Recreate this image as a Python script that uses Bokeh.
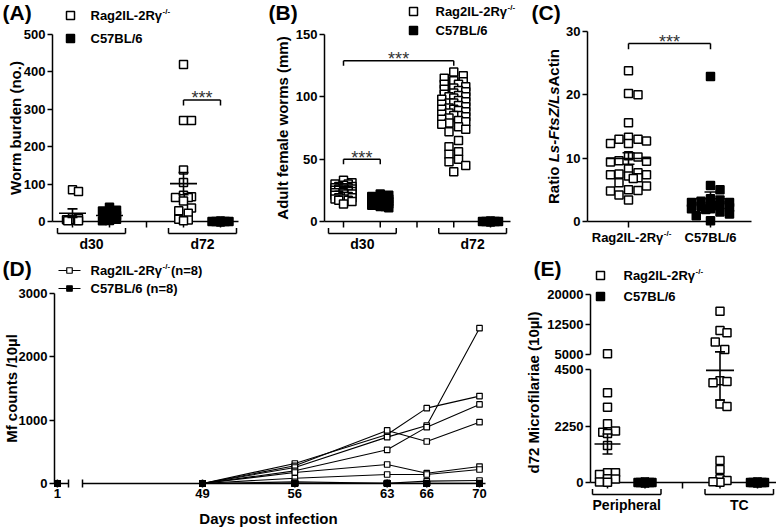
import numpy as np
from bokeh.plotting import figure
from bokeh.layouts import row, column
from bokeh.models import Range1d, FixedTicker
from bokeh.core.properties import value
from bokeh.embed import file_html
from bokeh.resources import INLINE

FONT = "Liberation Sans"

# ---------------- data ----------------
rag_name = "Rag2IL-2R\u03b3"      # followed by superscript "-/-"
rag_sup = "-/-"
c57_name = "C57BL/6"

# (A) worm burden (no.)
a_groups = ["d30", "d72"]
a_rag_d30 = [85, 80, 10, 8, 5, 5, 3, 2, 2]
a_c57_d30 = [38, 30, 28, 25, 22, 20, 18, 16, 15, 12, 10, 8, 6, 5, 3, 2]
a_rag_d72 = [420, 270, 270, 138, 104, 70, 66, 64, 64, 55, 36, 29, 22, 6, 4, 2]
a_c57_d72 = [0, 0, 0, 0, 0, 0, 0, 0, 0, 0]
a_yticks = [0, 100, 200, 300, 400, 500]

# (B) adult female worms (mm)
b_groups = ["d30", "d72"]
b_rag_d30 = [33, 31, 30, 30, 29, 28, 28, 27, 27, 27, 26, 26, 26, 25, 25, 25, 25, 24, 24,
             24, 23, 23, 23, 22, 22, 22, 21, 21, 20, 20, 19, 19, 18, 18, 17, 17, 16, 14]
b_c57_d30 = [22, 21, 20, 19, 19, 18, 18, 17, 17, 17, 16, 16, 16, 16, 15, 15, 15, 15, 14,
             14, 14, 13, 13, 12, 12, 11]
b_rag_d72 = [120, 117, 115, 113, 112, 110, 110, 108, 107, 106, 105, 104, 103, 102, 101, 100,
             100, 99, 98, 97, 96, 95, 95, 94, 93, 92, 91, 90, 90, 89, 88, 87, 86, 85, 85, 84,
             83, 82, 81, 80, 79, 78, 76, 74, 72, 65, 60, 56, 54, 50, 48, 45, 40]
b_c57_d72 = [0, 0, 0, 0, 0, 0, 0, 0, 0, 0]
b_yticks = [0, 50, 100, 150]

# (C) ratio Ls-FtsZ / LsActin
c_rag = [23.8, 20.2, 20.0, 15.6, 13.3, 13.0, 13.0, 12.7, 12.3, 12.3, 10.4, 10.2, 9.6, 9.5,
         9.4, 8.3, 7.7, 7.5, 7.4, 7.4, 7.2, 6.9, 6.8, 6.1, 5.6, 5.0, 4.9, 4.8, 4.2, 3.4]
c_c57 = [22.9, 5.7, 5.0, 3.6, 3.4, 3.2, 3.0, 3.0, 2.8, 2.6, 2.5, 2.4, 2.2, 2.0, 2.0, 1.9,
         1.5, 1.2, 0.9, 0.1]
c_yticks = [0, 10, 20, 30]

# (D) Mf counts / 10 ul per mouse
d_days = [1, 49, 56, 63, 66, 70]
d_rag = [
    [0, 0, 316, 774, 1190, 1380],
    [0, 0, 279, 838, 663, 968],
    [0, 0, 253, 732, 916, 2453],
    [0, 0, 200, 532, 890, 1248],
    [0, 0, 174, 300, 163, 268],
    [0, 0, 84, 142, 142, 221],
    [0, 0, 26, 5, 37, 47],
    [0, 0, 0, 5, 5, 5],
]
d_c57 = [
    [0, 0, 0, 0, 0, 0], [0, 0, 0, 0, 0, 0], [0, 0, 0, 0, 0, 0], [0, 0, 0, 0, 0, 0],
    [0, 0, 0, 0, 0, 0], [0, 0, 0, 0, 0, 0], [0, 0, 0, 0, 0, 0], [0, 0, 0, 0, 0, 0],
]
d_yticks = [0, 1000, 2000, 3000]

# (E) d72 microfilariae (10 ul)
e_groups = ["Peripheral", "TC"]
e_rag_per = [5200, 3570, 3000, 2340, 2050, 2000, 1950, 1470, 390, 320, 390, 150, 140, 20, 10]
e_c57_per = [0, 0, 0, 0, 0, 0, 0, 0, 0, 0]
e_rag_tc = [15800, 11000, 10400, 8100, 6250, 4050, 3970, 4020, 3130, 3030, 880, 520, 150, 80, 10, 30]
e_c57_tc = [0, 0, 0, 0, 0, 0, 0, 0, 0, 0]
e_yticks = [0, 2250, 4500, 5000, 12500, 20000]

# broken axis of (E): 0-4500 / 5000-20000 (gap and upper span in lower-segment units)
E_LOW_MAX, E_HIGH_MIN, E_HIGH_MAX = 4500, 5000, 20000
E_GAP, E_HIGH_SPAN = 600.0, 2390.0


def epos(v):
    if v <= E_LOW_MAX:
        return float(v)
    if v >= E_HIGH_MIN:
        return E_LOW_MAX + E_GAP + (v - E_HIGH_MIN) * E_HIGH_SPAN / (E_HIGH_MAX - E_HIGH_MIN)
    return E_LOW_MAX + (v - E_LOW_MAX) * E_GAP / (E_HIGH_MIN - E_LOW_MAX)


# broken axis of (D): day 1, then 49..70
D_BREAK_AT, D_BREAK_SPAN = 49, 11


def dpos(day):
    return float(day) if day >= D_BREAK_AT else float(D_BREAK_AT - D_BREAK_SPAN + (day - 1))


# ---------------- helpers ----------------
class Panel:
    def __init__(self, box, axis_x, xmap, ymap):
        x0, y0, x1, y1 = box
        (xa, pa), (xb, pb) = xmap
        (ya, qa), (yb, qb) = ymap
        self.xa, self.pa, self.kx = xa, pa, (xb - xa) / (pb - pa)
        self.ya, self.qa, self.ky = ya, qa, (yb - ya) / (qb - qa)
        self.ax = axis_x
        self.p = figure(width=x1 - x0, height=y1 - y0, output_backend="svg",
                        toolbar_location=None,
                        x_range=Range1d(self.X(x0), self.X(x1)),
                        y_range=Range1d(self.Y(y1), self.Y(y0)),
                        x_axis_location=None, y_axis_location="left",
                        min_border_left=0, min_border_right=0,
                        min_border_top=0, min_border_bottom=0)
        p = self.p
        p.yaxis[0].fixed_location = self.X(axis_x)
        p.outline_line_color = None
        p.grid.visible = False
        p.background_fill_color = "white"
        p.border_fill_color = "white"

    def X(self, px):
        return self.xa + (px - self.pa) * self.kx

    def Y(self, py):
        return self.ya + (py - self.qa) * self.ky

    def PX(self, x):
        return self.pa + (x - self.xa) / self.kx

    def PY(self, y):
        return self.qa + (y - self.ya) / self.ky


def style_yaxis(P, ticks, label, standoff, bounds=None, overrides=None, line=True):
    ax = P.p.yaxis[0]
    ax.ticker = FixedTicker(ticks=ticks)
    if label:
        ax.axis_label = label
    ax.axis_label_text_font = FONT
    ax.axis_label_text_font_style = "bold"
    ax.axis_label_text_font_size = "15px"
    ax.axis_label_text_color = "black"
    ax.axis_label_standoff = standoff
    ax.major_label_text_font = FONT
    ax.major_label_text_font_style = "bold"
    ax.major_label_text_font_size = "13px"
    ax.major_label_text_color = "black"
    ax.major_label_standoff = 2
    ax.major_tick_out = 5
    ax.major_tick_in = 0
    ax.major_tick_line_width = 1.5
    ax.major_tick_line_color = "black"
    ax.minor_tick_out = 0
    ax.minor_tick_in = 0
    ax.axis_line_width = 1.5
    ax.axis_line_color = "black" if line else None
    if bounds is not None:
        ax.bounds = bounds
    if overrides is not None:
        ax.major_label_overrides = overrides


def seg_px(P, segs, lw=1.5, color="black"):
    P.p.segment(x0=[P.X(s[0]) for s in segs], y0=[P.Y(s[1]) for s in segs],
                x1=[P.X(s[2]) for s in segs], y1=[P.Y(s[3]) for s in segs],
                line_color=color, line_width=lw)


def text_px(P, x, y, s, size="13px", align="center", baseline="middle", style="bold",
            color="black", angle=0.0):
    P.p.text(x=[P.X(x)], y=[P.Y(y)], text=[s], text_align=align, text_baseline=baseline,
             text_font=value(FONT), text_font_style=style, text_font_size=value(size),
             text_color=color, angle=angle)


RAG_W, SUP_W = 71.5, 8.0


def rag_text(P, x, y, after="", align="left"):
    if align == "center":
        x = x - (RAG_W + SUP_W) / 2.0
    text_px(P, x, y, rag_name, align="left")
    text_px(P, x + RAG_W + 0.5, y - 4.5, rag_sup, size="8px", align="left")
    if after:
        text_px(P, x + RAG_W + SUP_W + 1, y, after, align="left")


def title(P, s, x, y):
    text_px(P, x, y, s, size="21px", align="left", baseline="top")


def swarm(vals_px, size, half_w):
    step = size / 2.0
    cands = [0.0]
    k = 1
    while k * step < half_w:
        cands += [k * step, -k * step]
        k += 1
    if half_w > 0:
        cands += [half_w, -half_w]
    order = sorted(range(len(vals_px)), key=lambda i: -vals_px[i])
    placed, offs = [], [0.0] * len(vals_px)
    for i in order:
        y = vals_px[i]
        best, bestd = 0.0, -1.0
        for c in cands:
            d = min([max(abs(c - ox), abs(y - oy)) for ox, oy in placed] or [1e9])
            if d >= size:
                best = c
                break
            if d > bestd:
                best, bestd = c, d
        offs[i] = best
        placed.append((best, y))
    return offs


def ident(v):
    return float(v)


def scatter_col(P, col, vals, filled, half_w, size=8, lw=1.5, tr=ident):
    ys = [tr(v) for v in vals]
    ppu = 1.0 / abs(P.ky)
    offs = swarm([y * ppu for y in ys], size + lw, half_w)
    xs = [col + o * P.kx for o in offs]
    P.p.scatter(x=xs, y=ys, marker="square", size=size, line_width=lw, line_color="black",
                fill_color="black" if filled else "white")


def mean_sem(P, col, vals, hw_mean, hw_sem, tr=ident, lw=1.6):
    v = np.asarray(vals, dtype=float)
    m = v.mean()
    s = v.std(ddof=1) / np.sqrt(len(v))
    hm, hs = hw_mean * P.kx, hw_sem * P.kx
    P.p.segment(x0=[col - hm, col, col - hs, col - hs],
                y0=[tr(m), tr(m - s), tr(m + s), tr(m - s)],
                x1=[col + hm, col, col + hs, col + hs],
                y1=[tr(m), tr(m + s), tr(m + s), tr(m - s)],
                line_color="black", line_width=lw)


def group_axis(P, x_end, cols, groups, group_cols):
    y0 = P.PY(0)
    segs = [(P.ax, y0, x_end, y0)]
    for c in cols:
        cx = P.PX(c)
        segs.append((cx, y0, cx, y0 + 6))
    for (ca, cb), lab in zip(group_cols, groups):
        l, r = P.PX(ca) - 15, P.PX(cb) + 16
        segs += [(l, y0 + 12, r, y0 + 12), (l, y0 + 6.5, l, y0 + 12), (r, y0 + 6.5, r, y0 + 12)]
        text_px(P, (l + r) / 2.0, y0 + 22.5, lab, size="14px")
    seg_px(P, segs)


def sig(P, ca, cb, yl, yd, fs=18):
    P.p.segment(x0=[ca, ca, cb], y0=[yl, yl, yl], x1=[cb, ca, cb], y1=[yl, yd, yd],
                line_color="black", line_width=1.5)
    base_px = P.PY(yl) - 1.5
    P.p.text(x=[(ca + cb) / 2.0], y=[P.Y(base_px)], text=["***"], text_align="center",
             text_baseline="alphabetic", text_font=value(FONT), text_font_style="normal",
             text_font_size=value("%dpx" % fs), text_color="#333333")


def legend_sq(P, x, y, filled, size=8, lw=1.5):
    P.p.scatter(x=[P.X(x)], y=[P.Y(y)], marker="square", size=size, line_width=lw,
                line_color="black", fill_color="black" if filled else "white")


TOP_H = 256

# ---------------- (A) ----------------
A = Panel((0, 0, 262, TOP_H), 52, ((1, 72), (5, 220)), ((0, 221), (500, 34)))
style_yaxis(A, a_yticks, "Worm burden (no.)", -3, bounds=(0, 500))
group_axis(A, 238, [1, 2, 3, 4, 5], a_groups, [(1, 2), (4, 5)])
scatter_col(A, 1, a_rag_d30, False, 6)
scatter_col(A, 2, a_c57_d30, True, 7)
scatter_col(A, 4, a_rag_d72, False, 8)
scatter_col(A, 5, a_c57_d72, True, 8.5)
mean_sem(A, 1, a_rag_d30, 13.5, 5)
mean_sem(A, 2, a_c57_d30, 13.5, 5)
mean_sem(A, 4, a_rag_d72, 13.5, 5)
sig(A, 4, 5, 325, 310)
legend_sq(A, 70, 15, False)
rag_text(A, 90, 15)
legend_sq(A, 70, 38, True)
text_px(A, 90, 38, c57_name, align="left")
title(A, "(A)", 2, 0)

# ---------------- (B) ----------------
B = Panel((262, 0, 520, TOP_H), 324, ((1, 343), (5, 490)), ((0, 221), (150, 34)))
style_yaxis(B, b_yticks, "Adult female worms (mm)", 2, bounds=(0, 150))
group_axis(B, 510, [1, 2, 3, 4, 5], b_groups, [(1, 2), (4, 5)])
scatter_col(B, 1, b_rag_d30, False, 8.5)
scatter_col(B, 2, b_c57_d30, True, 8.5)
scatter_col(B, 4, b_rag_d72, False, 12)
scatter_col(B, 5, b_c57_d72, True, 8)
sig(B, 1, 2, 50, 46)
sig(B, 1, 4, 129, 125)
legend_sq(B, 413, 11, False)
rag_text(B, 435, 11)
legend_sq(B, 413, 30, True)
text_px(B, 435, 30, c57_name, align="left")
title(B, "(B)", 268, 0)

# ---------------- (C) ----------------
C = Panel((520, 0, 776, TOP_H), 587, ((1, 628), (2, 710)), ((0, 221), (30, 31)))
style_yaxis(C, c_yticks, None, 5, bounds=(0, 30))
# y title with italic gene names, reading bottom-to-top
c_lab_parts = [("Ratio ", "bold", 41.7), ("Ls-FtsZ/Ls", "bold italic", 75.8), ("Actin", "bold", 37.5)]
cy_start = 126 + sum(w for _, _, w in c_lab_parts) / 2.0
for txt, sty, w in c_lab_parts:
    text_px(C, 553, cy_start, txt, size="15px", align="left", baseline="middle", style=sty,
            angle=np.pi / 2)
    cy_start -= w
cy0 = C.PY(0)
seg_px(C, [(587, cy0, 751, cy0), (C.PX(1), cy0, C.PX(1), cy0 + 6),
           (C.PX(2), cy0, C.PX(2), cy0 + 6)])
rag_text(C, C.PX(1) + 3, cy0 + 16, align="center")
text_px(C, C.PX(2), cy0 + 16, c57_name)
scatter_col(C, 1, c_rag, False, 18)
scatter_col(C, 2, c_c57, True, 19)
mean_sem(C, 1, c_rag, 22, 6)
mean_sem(C, 2, c_c57, 19, 6)
sig(C, 1, 2, 28.1, 27.2)
title(C, "(C)", 531, 0)

# ---------------- (D) ----------------
D = Panel((0, TOP_H, 520, 528), 54, ((49, 202), (70, 479)), ((0, 483), (3000, 293)))
style_yaxis(D, d_yticks, "Mf counts /10\u00b5l", -4, bounds=(0, 3000))
dy0 = D.PY(0)
dsegs = [(54, dy0, 68, dy0), (82, dy0, 485, dy0), (68, dy0 - 4, 68, dy0 + 4),
         (82, dy0 - 4, 82, dy0 + 4)]
for dd in d_days:
    dsegs.append((D.PX(dpos(dd)), dy0 - 4, D.PX(dpos(dd)), dy0 + 4))
seg_px(D, dsegs)
for dd in d_days:
    text_px(D, D.PX(dpos(dd)), dy0 + 9.5, str(dd))
text_px(D, 268, 518, "Days post infection", size="15px")
dx = [dpos(dd) for dd in d_days]
D.p.multi_line(xs=[dx[1:] for _ in d_rag], ys=[m[1:] for m in d_rag], line_color="black",
               line_width=1.1)
D.p.scatter(x=[x for m in d_rag for x in dx], y=[v for m in d_rag for v in m], marker="square",
            size=5.5, line_width=1.2, line_color="black", fill_color="white")
D.p.multi_line(xs=[dx[1:] for _ in d_c57], ys=[m[1:] for m in d_c57], line_color="black",
               line_width=1.1)
D.p.scatter(x=[x for m in d_c57 for x in dx], y=[v for m in d_c57 for v in m], marker="square",
            size=5.5, line_width=1.2, line_color="black", fill_color="black")
seg_px(D, [(58, 270, 80, 270), (58, 288, 80, 288)], lw=1.2)
legend_sq(D, 69, 270, False, size=5.5, lw=1.2)
legend_sq(D, 69, 288, True, size=5.5, lw=1.2)
rag_text(D, 90, 270, after="(n=8)")
text_px(D, 90, 288, c57_name + " (n=8)", align="left")
title(D, "(D)", 2, TOP_H)

# ---------------- (E) ----------------
E = Panel((520, TOP_H, 776, 528), 590, ((1, 607), (5, 757)), ((0, 482), (4500, 369)))
e_tick_pos = [epos(t) for t in e_yticks]
style_yaxis(E, e_tick_pos, "d72 Microfilariae (10\u00b5l)", 2,
            overrides={p_: str(t) for p_, t in zip(e_tick_pos, e_yticks)}, line=False)
seg_px(E, [(590, E.PY(epos(0)), 590, E.PY(epos(E_LOW_MAX))),
           (590, E.PY(epos(E_HIGH_MIN)), 590, E.PY(epos(E_HIGH_MAX)))])
group_axis(E, 776, [1, 2, 3, 4, 5], e_groups, [(1, 2), (4, 5)])
scatter_col(E, 1, e_rag_per, False, 8, tr=epos)
scatter_col(E, 2, e_c57_per, True, 7, tr=epos)
scatter_col(E, 4, e_rag_tc, False, 7, tr=epos)
scatter_col(E, 5, e_c57_tc, True, 7, tr=epos)
mean_sem(E, 1, e_rag_per, 13, 5, tr=epos)
mean_sem(E, 4, e_rag_tc, 14, 5, tr=epos)
legend_sq(E, 600, 275, False)
rag_text(E, 623, 275)
legend_sq(E, 600, 296, True)
text_px(E, 623, 296, c57_name, align="left")
title(E, "(E)", 533, TOP_H)

layout = column(row(A.p, B.p, C.p), row(D.p, E.p))
open("out.html", "w").write(file_html(layout, INLINE))
